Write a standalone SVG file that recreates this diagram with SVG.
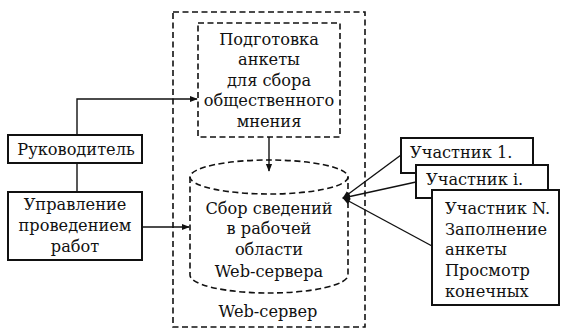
<svg xmlns="http://www.w3.org/2000/svg" width="562" height="329" viewBox="0 0 562 329">
<style>
text{font-family:"DejaVu Serif","Liberation Serif",serif;font-size:16.2px;fill:#111}
.box{fill:#fff;stroke:#111;stroke-width:2}
.dash{fill:none;stroke:#111;stroke-width:1.6;stroke-dasharray:6 3.5}
.ln{fill:none;stroke:#111;stroke-width:1.4}
.c{text-anchor:middle}
</style>
<defs>
<marker id="ah" viewBox="0 0 10 10" refX="9" refY="5" markerWidth="8" markerHeight="8" markerUnits="userSpaceOnUse" orient="auto">
<path d="M0,1 L10,5 L0,9 z" fill="#111"/>
</marker>
</defs>
<rect width="562" height="329" fill="#fff"/>
<g id="webserver">
<rect class="dash" x="173" y="12" width="192" height="315"/>
<text class="c" x="268" y="317">Web-сервер</text>
</g>
<g id="prep">
<rect class="dash" x="198" y="23" width="142" height="114"/>
<text class="c" x="269" y="45">Подготовка</text>
<text class="c" x="269" y="65">анкеты</text>
<text class="c" x="269" y="86">для сбора</text>
<text class="c" x="269" y="106">общественного</text>
<text class="c" x="269" y="127">мнения</text>
</g>
<g id="collect">
<ellipse class="dash" cx="269" cy="177" rx="79" ry="17"/>
<path class="dash" d="M190,177 V275 A79,18 0 0 0 348,275 V177"/>
<text class="c" x="269" y="214">Сбор сведений</text>
<text class="c" x="269" y="234">в рабочей</text>
<text class="c" x="269" y="255">области</text>
<text class="c" x="269" y="277">Web-сервера</text>
</g>
<g id="head">
<rect class="box" x="8" y="135" width="134" height="28"/>
<text class="c" x="76" y="155">Руководитель</text>
</g>
<g id="manage">
<rect class="box" x="8" y="192" width="134" height="68"/>
<text class="c" x="75" y="210">Управление</text>
<text class="c" x="75" y="231">проведением</text>
<text class="c" x="75" y="252">работ</text>
</g>
<g id="p1">
<rect class="box" x="401" y="138" width="132" height="35"/>
<text x="410" y="158">Участник 1.</text>
</g>
<g id="pi">
<rect class="box" x="416" y="165" width="132" height="33"/>
<text x="426" y="185">Участник i.</text>
</g>
<g id="pN">
<rect class="box" x="432" y="190" width="127" height="115"/>
<text x="445" y="214">Участник N.</text>
<text x="445" y="235">Заполнение</text>
<text x="445" y="255">анкеты</text>
<text x="445" y="276">Просмотр</text>
<text x="445" y="297">конечных</text>
</g>
<g id="connectors">
<path class="ln" d="M77,135 V99 H197" marker-end="url(#ah)"/>
<path class="ln" d="M77,163 V192"/>
<path class="ln" d="M142,227 H189" marker-end="url(#ah)"/>
<path class="ln" d="M269,137 V171" marker-end="url(#ah)"/>
<path class="ln" d="M401,155 L343,198" marker-end="url(#ah)"/>
<path class="ln" d="M416,182 L343,198" marker-end="url(#ah)"/>
<path class="ln" d="M432,246 L343,198" marker-end="url(#ah)"/>
</g>
</svg>
